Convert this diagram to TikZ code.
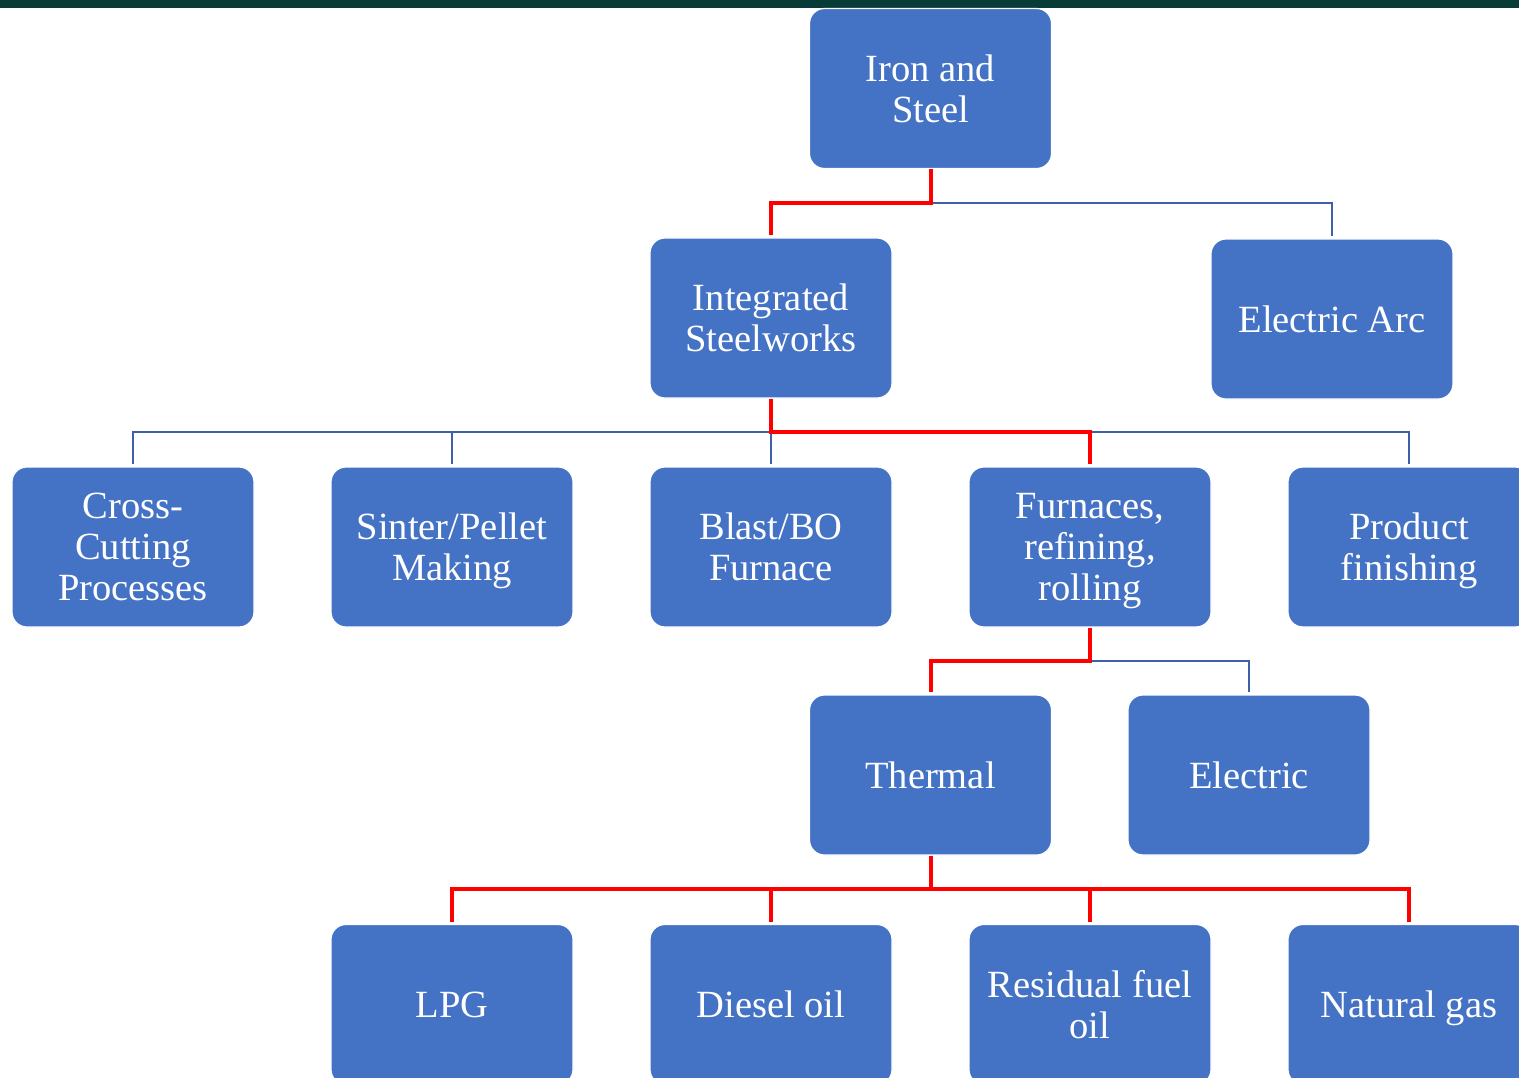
\documentclass[tikz,border=0pt]{standalone}
\usepackage{fontspec}
\setmainfont{Liberation Serif}
\definecolor{boxblue}{RGB}{68,114,196}
\definecolor{lineblue}{RGB}{62,96,168}
\definecolor{topbar}{RGB}{8,60,54}
\definecolor{redline}{RGB}{255,0,0}
\tikzset{
  box/.style={rounded corners=15pt, minimum width=242pt, minimum height=160pt,
    fill=boxblue, draw=white, line width=1.2pt, text=white, align=center,
    inner sep=0pt, text depth=0pt, font=\fontsize{38.5}{41}\selectfont},
  blueconn/.style={draw=lineblue, line width=2pt, shorten >=2pt},
  redconn/.style={draw=redline, line width=4pt, shorten >=2pt}
}
\begin{document}
\begin{tikzpicture}[x=1pt,y=-1pt]
\useasboundingbox (0,0) rectangle (1519,1078);
\clip (0,0) rectangle (1519,1078);
\fill[topbar] (0,0) rectangle (1519,8);
% nodes
\node[box] (iron) at (930.5,88.5) {Iron and\\Steel};
\node[box] (integ) at (771,318) {Integrated\\Steelworks};
\node[box] (arc) at (1332,319) {Electric Arc};
\node[box] (cc) at (133,547) {Cross-\\Cutting\\Processes};
\node[box] (sp) at (452,547) {Sinter/Pellet\\Making};
\node[box] (bf) at (771,547) {Blast/BO\\Furnace};
\node[box] (fr) at (1090,547) {Furnaces,\\refining,\\rolling};
\node[box] (pf) at (1409,547) {Product\\finishing};
\node[box] (th) at (930.5,775) {Thermal};
\node[box] (el) at (1249,775) {Electric};
\node[box] (lpg) at (452,1004.5) {LPG};
\node[box] (dies) at (771,1004.5) {Diesel oil};
\node[box] (res) at (1090,1004.5) {Residual fuel\\oil};
\node[box] (ng) at (1409,1004.5) {Natural gas};
% bus levels
\coordinate (b1) at (0,203.5);
\coordinate (b2) at (0,432);
\coordinate (b3) at (0,661);
\coordinate (b4) at (0,889);
% blue connectors
\draw[blueconn] (iron.south) -- (iron.south |- b1) -| (arc.north);
\foreach \t in {cc,sp,bf,pf}{
  \draw[blueconn] (integ.south) -- (integ.south |- b2) -| (\t.north);
}
\draw[blueconn] (fr.south) -- (fr.south |- b3) -| (el.north);
% red connectors
\draw[redconn] (iron.south) -- (iron.south |- b1) -| (integ.north);
\draw[redconn] (integ.south) -- (integ.south |- b2) -| (fr.north);
\draw[redconn] (fr.south) -- (fr.south |- b3) -| (th.north);
\foreach \t in {lpg,dies,res,ng}{
  \draw[redconn] (th.south) -- (th.south |- b4) -| (\t.north);
}
\end{tikzpicture}
\end{document}
